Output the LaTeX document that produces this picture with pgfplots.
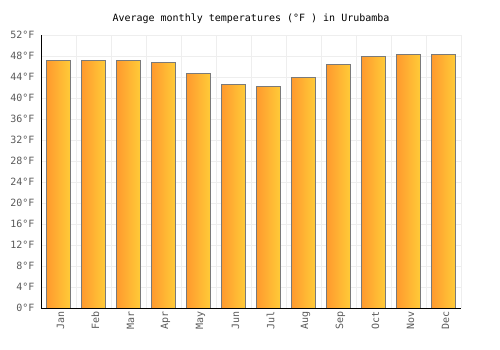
\documentclass[border=0pt]{standalone}
\usepackage{pgfplots}
\pgfplotsset{compat=1.18}
\usepackage{fontspec}
\setmainfont{DejaVu Sans Mono}
\setmonofont{DejaVu Sans Mono}
\definecolor{barL}{HTML}{FF9A2E}
\definecolor{barR}{HTML}{FFCB38}
\definecolor{barE}{HTML}{7A7A7A}
\definecolor{gridc}{HTML}{EEEEEE}
\definecolor{tickc}{HTML}{5A5A5A}
\pgfplotsset{mybar/.style={ybar, bar shift=0pt, bar width=0.67, draw=barE, line width=0.8pt, left color=barL, right color=barR, solid, mark=none}}
\begin{document}
\begin{tikzpicture}[x=1pt,y=1pt]
\begin{axis}[
  at={(0,0)}, anchor=south west,
  scale only axis, width=420pt, height=273pt,
  xmin=-0.5, xmax=11.5, ymin=0, ymax=52,
  xtick={0,...,11},
  xticklabels={Jan,Feb,Mar,Apr,May,Jun,Jul,Aug,Sep,Oct,Nov,Dec},
  minor xtick={-0.5,0.5,...,11.5},
  ytick={0,4,...,52},
  /pgf/number format/assume math mode=true,
  yticklabel={\pgfmathprintnumber{\tick}°F},
  xticklabel style={rotate=90, anchor=east, font=\fontsize{10}{12}\selectfont, text=tickc, yshift=-2pt},
  yticklabel style={font=\fontsize{10}{12}\selectfont, text=tickc, xshift=-3pt},
  major tick length=0pt, minor tick length=0pt,
  ymajorgrids, xminorgrids,
  grid style={draw=gridc, line width=0.8pt},
  minor grid style={draw=gridc, line width=0.8pt},
  axis x line*=bottom, axis y line*=left,
  axis line style={black, line width=0.8pt},
  x axis line style={-}, y axis line style={-},
  title={Average monthly temperatures (°F ) in Urubamba},
  title style={font=\fontsize{10}{12}\selectfont, at={(0.5,1)}, anchor=center, yshift=10pt},
]
\addplot[mybar] coordinates {(0,47.2)};
\addplot[mybar] coordinates {(1,47.2)};
\addplot[mybar] coordinates {(2,47.2)};
\addplot[mybar] coordinates {(3,46.8)};
\addplot[mybar] coordinates {(4,44.7)};
\addplot[mybar] coordinates {(5,42.6)};
\addplot[mybar] coordinates {(6,42.2)};
\addplot[mybar] coordinates {(7,43.9)};
\addplot[mybar] coordinates {(8,46.4)};
\addplot[mybar] coordinates {(9,47.9)};
\addplot[mybar] coordinates {(10,48.3)};
\addplot[mybar] coordinates {(11,48.3)};
\end{axis}
\pgfresetboundingbox
\path (-41,-42) rectangle (459,308);
\end{tikzpicture}
\end{document}
